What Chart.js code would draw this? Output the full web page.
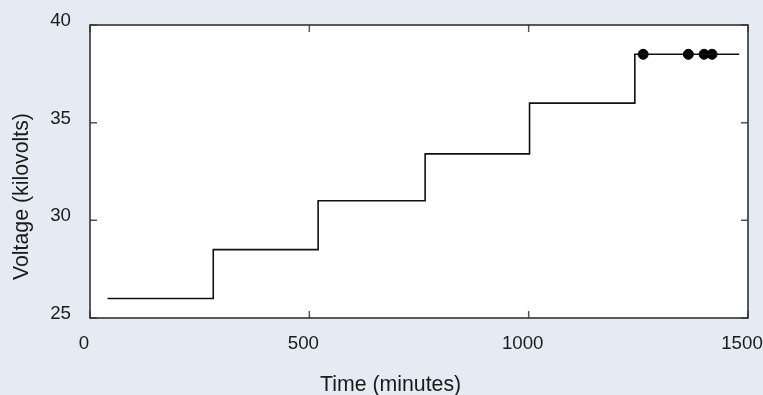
<!DOCTYPE html>
<html>
<head>
<meta charset="utf-8">
<script src="https://cdn.jsdelivr.net/npm/chart.js@4/dist/chart.umd.min.js"></script>
<style>
  html, body { margin: 0; padding: 0; background: #e5ebf2; }
  #wrap { width: 763px; height: 395px; position: relative; }
</style>
</head>
<body>
<div id="wrap"><canvas id="c" width="763" height="395"></canvas></div>
<script>
// ---- data ----
const stepStartTimes = [40, 281, 520, 764, 1002, 1242];   // minutes
const stepVoltages   = [26, 28.5, 31, 33.4, 36, 38.5];     // kilovolts
const endTime        = 1480;                               // minutes
const failureTimes   = [1261, 1364, 1400, 1418];           // minutes
const failureVoltage = 38.5;                               // kilovolts
const xTicks = [0, 500, 1000, 1500];
const yTicks = [25, 30, 35, 40];
const xTitle = 'Time (minutes)';
const yTitle = 'Voltage (kilovolts)';

// build step path (corner points) from the arrays
const stepPoints = [];
for (let i = 0; i < stepStartTimes.length; i++) {
  const next = i + 1 < stepStartTimes.length ? stepStartTimes[i + 1] : endTime;
  stepPoints.push({ x: stepStartTimes[i], y: stepVoltages[i] });
  stepPoints.push({ x: next, y: stepVoltages[i] });
}
const failurePoints = failureTimes.map(t => ({ x: t, y: failureVoltage }));

const FONT = '"Liberation Sans", Arial, sans-serif';

const framePlugin = {
  id: 'frame',
  afterDatasetsDraw(chart) {
    const { ctx, chartArea: a, scales } = chart;
    ctx.save();
    ctx.strokeStyle = '#555';
    ctx.lineWidth = 1.5;
    const L = 7;
    xTicks.forEach(v => {
      const px = scales.x.getPixelForValue(v);
      ctx.beginPath();
      ctx.moveTo(px, a.bottom); ctx.lineTo(px, a.bottom - L);
      ctx.moveTo(px, a.top); ctx.lineTo(px, a.top + L);
      ctx.stroke();
    });
    yTicks.forEach(v => {
      const py = scales.y.getPixelForValue(v);
      ctx.beginPath();
      ctx.moveTo(a.left, py); ctx.lineTo(a.left + L, py);
      ctx.moveTo(a.right, py); ctx.lineTo(a.right - L, py);
      ctx.stroke();
    });
    ctx.strokeStyle = '#333';
    ctx.lineWidth = 1.6;
    ctx.strokeRect(a.left, a.top, a.right - a.left, a.bottom - a.top);
    ctx.restore();
  },
  afterDraw(chart) {
    const { ctx } = chart;
    ctx.save();
    ctx.fillStyle = '#1a1a1a';
    ctx.font = '21.3px ' + FONT;
    ctx.textAlign = 'left';
    ctx.textBaseline = 'alphabetic';
    ctx.fillText(xTitle, 320, 391);
    ctx.translate(28, 280);
    ctx.rotate(-Math.PI / 2);
    ctx.fillText(yTitle, 0, 0);
    ctx.restore();
  }
};

const bgPlugin = {
  id: 'bg',
  beforeDraw(chart) {
    const { ctx, chartArea: a } = chart;
    ctx.save();
    ctx.fillStyle = '#e5ebf2';
    ctx.fillRect(0, 0, chart.width, chart.height);
    ctx.fillStyle = '#ffffff';
    ctx.fillRect(a.left, a.top, a.right - a.left, a.bottom - a.top);
    ctx.restore();
  }
};

new Chart(document.getElementById('c'), {
  type: 'scatter',
  data: {
    datasets: [
      {
        type: 'line',
        data: stepPoints,
        borderColor: '#111',
        borderWidth: 1.6,
        pointRadius: 0,
        fill: false,
        tension: 0
      },
      {
        type: 'scatter',
        data: failurePoints,
        backgroundColor: '#000',
        borderColor: '#000',
        pointRadius: 5,
        pointHoverRadius: 5
      }
    ]
  },
  options: {
    responsive: false,
    animation: false,
    events: [],
    layout: { padding: { left: 0, right: 15, top: 25, bottom: 0 } },
    plugins: { legend: { display: false }, tooltip: { enabled: false } },
    scales: {
      x: {
        type: 'linear',
        min: 0, max: 1500,
        afterBuildTicks: s => { s.ticks = xTicks.map(v => ({ value: v })); },
        afterFit: s => { s.height = 77; s.paddingLeft = 0; s.paddingRight = 0; },
        grid: { display: false, drawTicks: false },
        border: { display: false },
        ticks: { padding: 15, labelOffset: -6, color: '#1a1a1a', font: { size: 18.7, family: FONT }, maxRotation: 0,
                 callback: v => String(v) }
      },
      y: {
        type: 'linear',
        min: 25, max: 40,
        afterBuildTicks: s => { s.ticks = yTicks.map(v => ({ value: v })); },
        afterFit: s => { s.width = 90; s.paddingTop = 0; s.paddingBottom = 0; },
        grid: { display: false, drawTicks: false },
        border: { display: false },
        ticks: { padding: 19, labelOffset: -4, color: '#1a1a1a', font: { size: 18.7, family: FONT },
                 callback: v => String(v) }
      }
    }
  },
  plugins: [bgPlugin, framePlugin]
});
</script>
</body>
</html>
